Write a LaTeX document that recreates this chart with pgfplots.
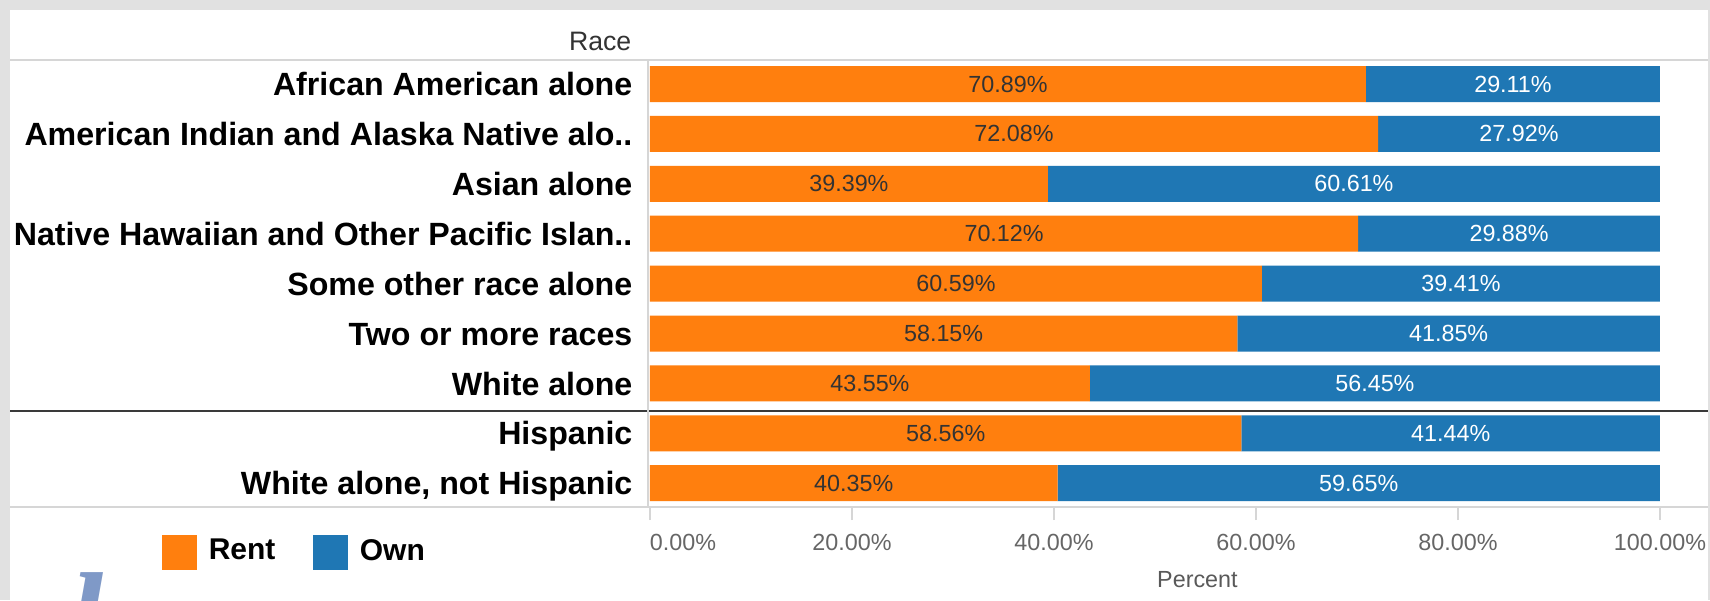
\documentclass[border=0pt]{standalone}
\usepackage{fontspec}
\setmainfont{Liberation Sans}
\newfontfamily\reg{Liberation Sans}
\newfontfamily\serifbi{Liberation Serif}
\usepackage{pgfplots}
\usepackage{pgfplotstable}
\pgfplotsset{compat=1.18}
\definecolor{rentc}{HTML}{FF7F0E}
\definecolor{ownc}{HTML}{1F77B4}
\definecolor{bandgray}{HTML}{E1E1E1}
\definecolor{linegray}{HTML}{D6D6D6}
\definecolor{tickgray}{HTML}{666666}
\definecolor{darkline}{HTML}{3A3A3A}
\definecolor{glyphc}{HTML}{7F99C7}
\newcommand\fs[1]{\fontsize{#1}{#1}\selectfont}
\def\px{0.3pt}

\pgfplotstableread{
y rent own
0 70.89 29.11
1 72.08 27.92
2 39.39 60.61
3 70.12 29.88
4 60.59 39.41
5 58.15 41.85
6 43.55 56.45
7 58.56 41.44
8 40.35 59.65
}\data

\begin{document}
\begin{tikzpicture}
\useasboundingbox (0,0) rectangle (1710*\px,-600*\px);
\clip (0,0) rectangle (1710*\px,-600*\px);
\fill[bandgray] (0,0) rectangle (1710*\px,-600*\px);
\fill[white] (10*\px,-10*\px) rectangle (1708*\px,-600*\px);
\draw[linegray, line width=0.6pt] (10*\px,-60*\px) -- (1708*\px,-60*\px);
\draw[darkline, line width=0.6pt] (10*\px,-411*\px) -- (1708*\px,-411*\px);
\draw[linegray, line width=0.6pt] (10*\px,-507*\px) -- (1708*\px,-507*\px);
\draw[linegray, line width=0.6pt] (648*\px,-60*\px) -- (648*\px,-507*\px);
\node[anchor=base east, font=\reg\fs{8pt}, text=black!80, inner sep=0pt] at (632*\px,-50*\px) {Race};
\node[anchor=base west, inner sep=0pt, font=\serifbi\bfseries\itshape\fs{38pt}, text=glyphc] at (68*\px,-660*\px) {l};

\begin{axis}[
  at={(650*\px,-507*\px)}, anchor=south west,
  scale only axis, width=303pt, height=134.1pt,
  xbar stacked, bar width=10.8pt,
  xmin=0, xmax=100, ymin=-0.481, ymax=8.477, y dir=reverse,
  axis line style={draw=none},
  ytick={0,...,8},
  yticklabels={African American alone, American Indian and Alaska Native alo.., Asian alone, Native Hawaiian and Other Pacific Islan.., Some other race alone, Two or more races, White alone, Hispanic, {White alone, not Hispanic}},
  ytick style={draw=none},
  xtick={0,20,...,100},
  xticklabels={\makebox[0pt][l]{0.00\%},20.00\%,40.00\%,60.00\%,80.00\%,100.00\%},
  xtick pos=lower, ytick pos=left,
  tick align=outside, major tick length=3.9pt,
  x tick style={draw=linegray, line width=0.6pt},
  x tick label style={font=\reg\fs{7pt}, text=tickgray, inner sep=0pt, anchor=north, yshift=-4.1pt},
  y tick label style={font=\bfseries\fs{9.65pt}, text=black, inner sep=0pt, anchor=east, xshift=-1.2pt, text height=0.9em, text depth=0.2em},
  xlabel={Percent},
  xlabel style={font=\reg\fs{7pt}, text=black!65, at={(axis description cs:0.542,0)}, anchor=base, yshift=-24pt, inner sep=0pt},
  legend style={at={(axis description cs:-0.484,-0.1007)}, anchor=west, draw=none, fill=none, inner sep=0pt, font=\bfseries\fs{9pt}, /tikz/every even column/.append style={column sep=9.2pt}},
  legend columns=2,
  legend image code/.code={\fill[#1] (0pt,-5.25pt) rectangle (10.5pt,5.25pt); \path (12.1pt,0pt);},
  clip=false,
]
\addplot[fill=rentc, draw=none] table[x=rent, y=y]{\data};
\addplot[fill=ownc, draw=none] table[x=own, y=y]{\data};
\legend{Rent, Own}
\end{axis}

\begin{axis}[
  at={(650*\px,-507*\px)}, anchor=south west,
  scale only axis, width=303pt, height=134.1pt,
  xmin=0, xmax=100, ymin=-0.481, ymax=8.477, y dir=reverse,
  hide axis, clip=false,
  /pgf/number format/assume math mode=true,
]
\addplot[draw=none, mark=none, point meta=explicit,
  nodes near coords={\pgfmathprintnumber[fixed,fixed zerofill,precision=2]{\pgfplotspointmeta}\%},
  nodes near coords style={anchor=center, font=\reg\fs{7pt}, text=black!80, inner sep=0pt}]
  table[x expr=\thisrow{rent}/2, y=y, meta=rent]{\data};
\addplot[draw=none, mark=none, point meta=explicit,
  nodes near coords={\pgfmathprintnumber[fixed,fixed zerofill,precision=2]{\pgfplotspointmeta}\%},
  nodes near coords style={anchor=center, font=\reg\fs{7pt}, text=white, inner sep=0pt}]
  table[x expr=\thisrow{rent}+\thisrow{own}/2, y=y, meta=own]{\data};
\end{axis}
\end{tikzpicture}
\end{document}
